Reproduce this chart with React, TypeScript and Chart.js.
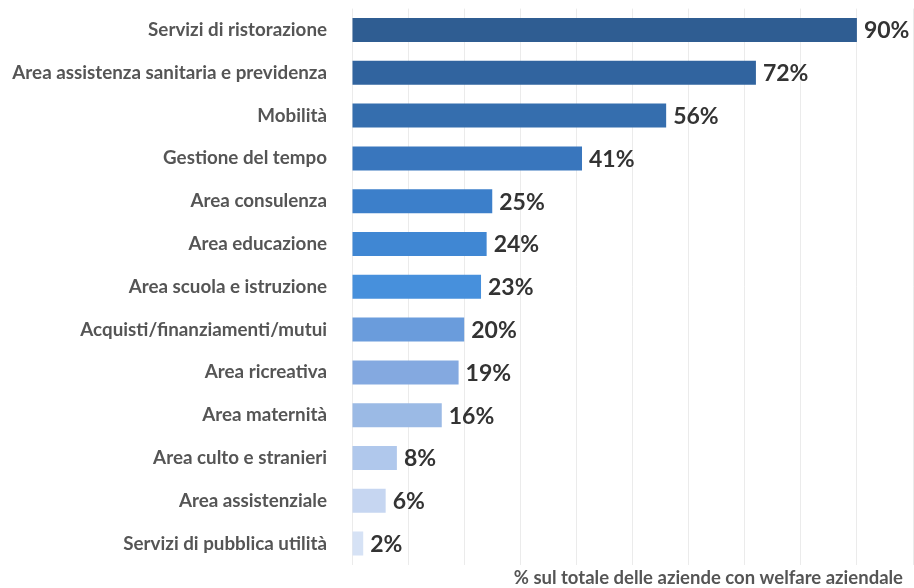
import React, { useEffect, useRef } from "react";
import { Chart, registerables } from "chart.js";

Chart.register(...registerables);

const categories = [
  "Servizi di ristorazione",
  "Area assistenza sanitaria e previdenza",
  "Mobilità",
  "Gestione del tempo",
  "Area consulenza",
  "Area educazione",
  "Area scuola e istruzione",
  "Acquisti/finanziamenti/mutui",
  "Area ricreativa",
  "Area maternità",
  "Area culto e stranieri",
  "Area assistenziale",
  "Servizi di pubblica utilità",
];

const values = [90, 72, 56, 41, 25, 24, 23, 20, 19, 16, 8, 6, 2];

const barColors = [
  "#2f5d92",
  "#31649f",
  "#356eae",
  "#3976bd",
  "#3c7fca",
  "#4087d3",
  "#4790dc",
  "#6a9cdc",
  "#84a9e0",
  "#9bbae5",
  "#b0c8ec",
  "#c6d6f1",
  "#d6e2f5",
];

const axisTitle = "% sul totale delle aziende con welfare aziendale";

const FONT = "Lato, 'Open Sans', sans-serif";

const valueLabels = {
  id: "valueLabels",
  afterDatasetsDraw(chart: any) {
    const ctx = chart.ctx;
    const meta = chart.getDatasetMeta(0);
    ctx.save();
    ctx.font = `bold 23px ${FONT}`;
    ctx.fillStyle = "#333333";
    ctx.textAlign = "left";
    ctx.textBaseline = "middle";
    meta.data.forEach((bar: any, i: number) => {
      ctx.fillText(values[i] + "%", bar.x + 7, bar.y + 1);
    });
    ctx.restore();
  },
};

const bottomTitle = {
  id: "bottomTitle",
  afterDraw(chart: any) {
    const ctx = chart.ctx;
    ctx.save();
    ctx.font = `bold 18.5px ${FONT}`;
    ctx.fillStyle = "#555555";
    ctx.textAlign = "right";
    ctx.textBaseline = "middle";
    ctx.fillText(axisTitle, 903, 578);
    ctx.restore();
  },
};

export default function App() {
  const ref = useRef<HTMLCanvasElement>(null);

  useEffect(() => {
    document.body.style.margin = "0";
    if (!ref.current) return;
    const chart = new Chart(ref.current, {
      type: "bar",
      data: {
        labels: categories,
        datasets: [
          {
            data: values,
            backgroundColor: barColors,
            borderWidth: 0,
            barPercentage: 0.56,
            categoryPercentage: 1,
          },
        ],
      },
      options: {
        indexAxis: "y",
        animation: false,
        responsive: false,
        maintainAspectRatio: false,
        layout: { padding: { top: 8.6, right: 1, left: 0, bottom: 0 } },
        plugins: {
          legend: { display: false },
          tooltip: { enabled: false },
        },
        scales: {
          x: {
            min: 0,
            max: 100,
            ticks: { display: false, stepSize: 10 },
            grid: { color: "#ebebeb", drawTicks: false, lineWidth: 1 },
            border: { display: false },
            afterFit(scale: any) {
              scale.height = 23;
            },
          },
          y: {
            ticks: {
              color: "#555555",
              font: { family: FONT, size: 18.8, weight: "bold", lineHeight: 0.9 },
              padding: 0,
              autoSkip: false,
            },
            grid: { display: false, drawTicks: true, tickLength: 25 },
            border: { display: false },
            afterFit(scale: any) {
              scale.width = 352;
            },
          },
        },
      },
      plugins: [valueLabels, bottomTitle],
    });
    return () => chart.destroy();
  }, []);

  return (
    <div style={{ width: 914, height: 588 }}>
      <canvas ref={ref} width={914} height={588} style={{ display: "block" }} />
    </div>
  );
}
